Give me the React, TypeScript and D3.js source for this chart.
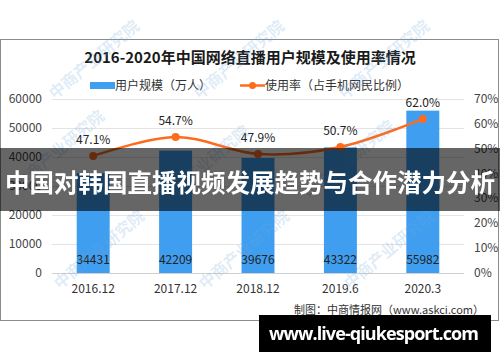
import React, { useEffect, useRef } from 'react';
import * as d3 from 'd3';

const W = 500;
const H = 362;
const margin = { top: 99, bottom: 89, left: 52, right: 36 };

const categories = ['2016.12', '2017.12', '2018.12', '2019.6', '2020.3'];
const users = [34431, 42209, 39676, 43322, 55982];
const rates = [47.1, 54.7, 47.9, 50.7, 62.0];
const leftTicks = [0, 10000, 20000, 30000, 40000, 50000, 60000];
const rightTicks = [0, 10, 20, 30, 40, 50, 60, 70];

const title = '2016-2020年中国网络直播用户规模及使用率情况';
const legendBar = '用户规模（万人）';
const legendLine = '使用率（占手机网民比例）';
const source = '制图：中商情报网（www.askci.com）';
const banner = '中国对韩国直播视频发展趋势与合作潜力分析';
const site = 'www.live-qiukesport.com';

const CJK = '"Noto Sans CJK SC", "Noto Sans", sans-serif';

export default function App() {
  const ref = useRef<SVGSVGElement>(null);

  useEffect(() => {
    const svg = d3.select(ref.current);
    svg.selectAll('*').remove();

    const innerW = W - margin.left - margin.right;
    const innerH = H - margin.top - margin.bottom;

    const x = d3.scaleBand().domain(categories).range([0, innerW]).paddingInner(0.6).paddingOuter(0.3);
    const yL = d3.scaleLinear().domain([0, 60000]).range([innerH, 0]);
    const yR = d3.scaleLinear().domain([0, 70]).range([innerH, 0]);

    svg.append('rect').attr('width', W).attr('height', H).attr('fill', '#fff');
    svg.append('rect')
      .attr('x', 0.5).attr('y', 39.5).attr('width', 498).attr('height', 281)
      .attr('fill', '#fff').attr('stroke', '#8c8c8c');

    svg.append('text')
      .attr('x', 250).attr('y', 63).attr('text-anchor', 'middle')
      .attr('font-family', CJK).attr('font-size', 15).attr('font-weight', 'bold')
      .attr('fill', '#1a1a1a').text(title);

    // legend
    const lg = svg.append('g').attr('font-family', CJK).attr('font-size', 12).attr('fill', '#333');
    lg.append('rect').attr('x', 90).attr('y', 82).attr('width', 25).attr('height', 7).attr('fill', '#3f9ef0');
    lg.append('text').attr('x', 115).attr('y', 90).text(legendBar);
    lg.append('line').attr('x1', 240).attr('x2', 265).attr('y1', 85.5).attr('y2', 85.5)
      .attr('stroke', '#ff6b1c').attr('stroke-width', 2.5);
    lg.append('circle').attr('cx', 252.5).attr('cy', 85.5).attr('r', 3.5).attr('fill', '#ff6b1c');
    lg.append('text').attr('x', 265).attr('y', 90).text(legendLine);

    const g = svg.append('g').attr('transform', `translate(${margin.left},${margin.top})`);

    g.selectAll('line.grid').data(leftTicks).enter().append('line')
      .attr('x1', 0).attr('x2', innerW)
      .attr('y1', d => Math.round(yL(d)) + 0.5).attr('y2', d => Math.round(yL(d)) + 0.5)
      .attr('stroke', d => (d === 0 ? '#d0d0d0' : '#e3e3e3'));

    g.selectAll('text.yl').data(leftTicks).enter().append('text')
      .attr('x', -10).attr('y', d => yL(d) + 4).attr('text-anchor', 'end')
      .attr('font-family', CJK).attr('font-size', 12).attr('fill', '#444').text(d => d);

    g.selectAll('text.yr').data(rightTicks).enter().append('text')
      .attr('x', innerW + 10).attr('y', d => yR(d) + 4)
      .attr('font-family', CJK).attr('font-size', 12).attr('fill', '#444').text(d => `${d}%`);

    g.selectAll('text.xl').data(categories).enter().append('text')
      .attr('x', d => x(d)! + x.bandwidth() / 2).attr('y', innerH + 20).attr('text-anchor', 'middle')
      .attr('font-family', CJK).attr('font-size', 12).attr('fill', '#333').text(d => d);

    g.selectAll('rect.bar').data(users).enter().append('rect')
      .attr('x', (d, i) => x(categories[i])!).attr('width', x.bandwidth())
      .attr('y', d => yL(d)).attr('height', d => innerH - yL(d)).attr('fill', '#3f9ef0');

    g.selectAll('text.bl').data(users).enter().append('text')
      .attr('x', (d, i) => x(categories[i])! + x.bandwidth() / 2).attr('y', innerH - 9)
      .attr('text-anchor', 'middle').attr('font-family', CJK).attr('font-size', 12)
      .attr('fill', '#222').text(d => d);

    const cx = (i: number) => x(categories[i])! + x.bandwidth() / 2;
    const line = d3.line<number>().x((d, i) => cx(i)).y(d => yR(d)).curve(d3.curveCatmullRom.alpha(0.5));
    g.append('path').attr('d', line(rates)).attr('fill', 'none')
      .attr('stroke', '#ff6b1c').attr('stroke-width', 2.5);
    g.selectAll('circle.pt').data(rates).enter().append('circle')
      .attr('cx', (d, i) => cx(i)).attr('cy', d => yR(d)).attr('r', 4).attr('fill', '#ff6b1c');
    g.selectAll('text.rl').data(rates).enter().append('text')
      .attr('x', (d, i) => cx(i)).attr('y', d => yR(d) - 12).attr('text-anchor', 'middle')
      .attr('font-family', CJK).attr('font-size', 12).attr('fill', '#222').text(d => `${d.toFixed(1)}%`);

    svg.append('text').attr('x', 484).attr('y', 314).attr('text-anchor', 'end')
      .attr('font-family', CJK).attr('font-size', 11).attr('fill', '#333').text(source);

    // watermarks
    const wm = svg.append('g').attr('opacity', 0.22);
    [[55, 100], [200, 100], [345, 100], [20, 190], [165, 205], [310, 200], [60, 290], [205, 290], [350, 290]]
      .forEach(([px, py]) => {
        wm.append('text').attr('transform', `translate(${px},${py}) rotate(-40)`)
          .attr('font-family', CJK).attr('font-size', 16).attr('font-weight', 'bold')
          .attr('fill', '#6fa8d8').text('中商产业研究院');
      });

    // overlay banner
    svg.append('rect').attr('x', 0).attr('y', 148).attr('width', W).attr('height', 63)
      .attr('fill', 'rgba(0,0,0,0.6)');
    svg.append('text').attr('x', 250).attr('y', 192).attr('text-anchor', 'middle')
      .attr('font-family', CJK).attr('font-size', 24.5).attr('font-weight', 'bold')
      .attr('fill', '#fff').text(banner);

    svg.append('rect').attr('x', 259).attr('y', 315).attr('width', 232).attr('height', 37).attr('fill', '#000');
    svg.append('text').attr('x', 269).attr('y', 340).attr('textLength', 210)
      .attr('font-family', '"Open Sans", sans-serif').attr('font-size', 18).attr('font-weight', 'bold')
      .attr('fill', '#fff').text(site);
  }, []);

  return (
    <svg ref={ref} width={W} height={H} style={{ position: 'absolute', left: 0, top: 0 }} />
  );
}
